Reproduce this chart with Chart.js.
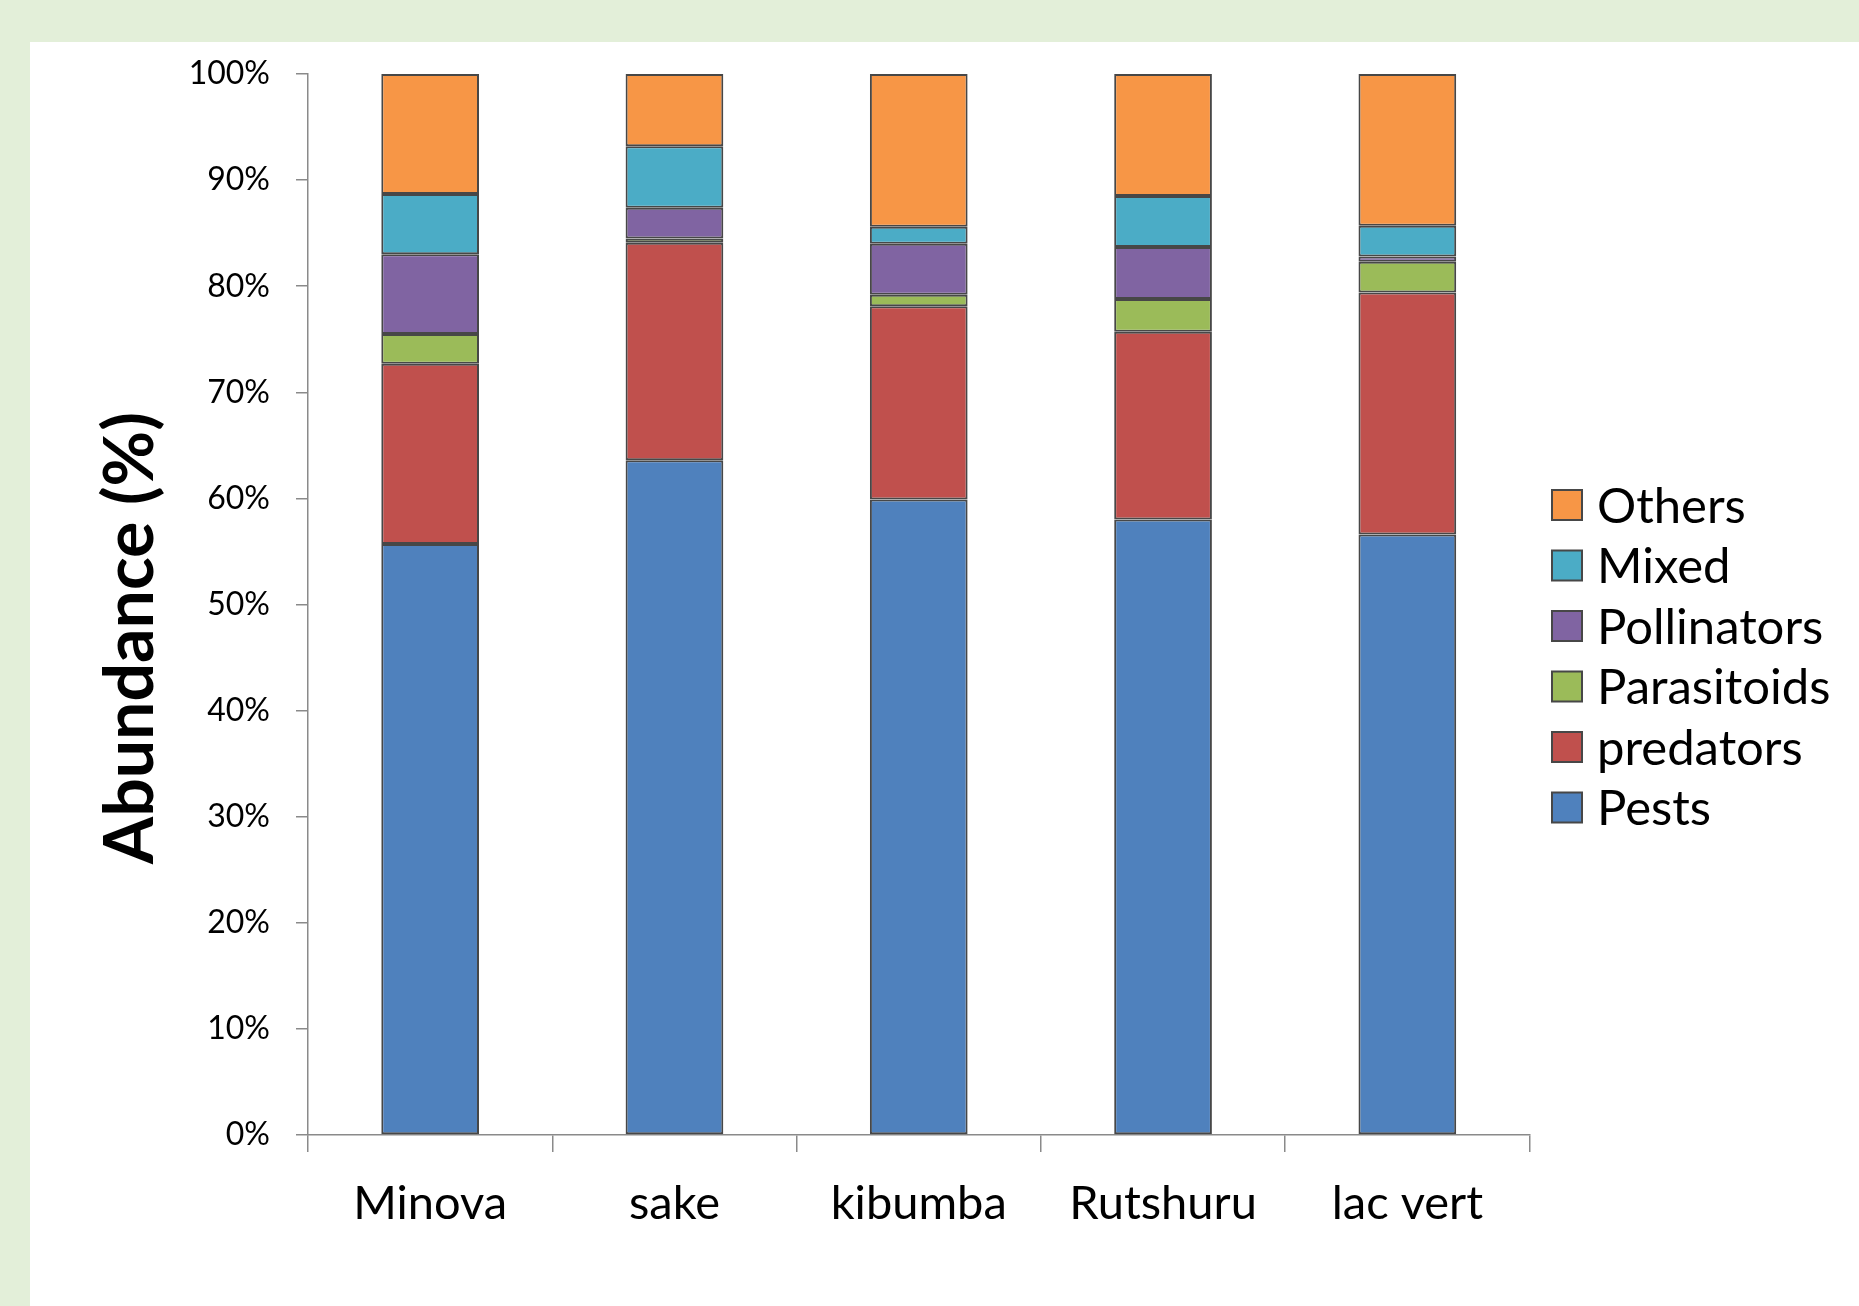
<!DOCTYPE html>
<html>
<head>
<meta charset="utf-8">
<title>Abundance by functional group</title>
<script src="https://cdn.jsdelivr.net/npm/chart.js@4.4.1/dist/chart.umd.min.js"></script>
<style>
  html, body { margin: 0; padding: 0; background: #ffffff; }
  #wrap { width: 1859px; height: 1306px; position: relative; }
</style>
</head>
<body>
<div id="wrap"><canvas id="c" width="1859" height="1306"></canvas></div>
<script>
// Sites (x categories)
const sites = ['Minova', 'sake', 'kibumba', 'Rutshuru', 'lac vert'];

// Relative abundance (%) of each functional group per site
const pests       = [55.7, 63.6, 59.9, 58.0, 56.6];
const predators   = [17.0, 20.5, 18.2, 17.7, 22.8];
const parasitoids = [2.8, 0.4, 1.1, 3.1, 2.9];
const pollinators = [7.5, 2.9, 4.8, 4.9, 0.5];
const mixed       = [5.7, 5.8, 1.6, 4.8, 2.9];
const others      = [11.3, 6.8, 14.4, 11.5, 14.3];

// Y axis tick values (%)
const yTicks = [0, 10, 20, 30, 40, 50, 60, 70, 80, 90, 100];
const yTitle = 'Abundance (%)';

const FONT = 'Lato';
const EDGE = '#474747';
const AXIS = '#8a8a8a';

// Page backdrop: light green frame with white panel
const backdrop = {
  id: 'backdrop',
  beforeDraw(chart) {
    const ctx = chart.ctx;
    ctx.save();
    ctx.fillStyle = '#e3efd9';
    ctx.fillRect(0, 0, chart.width, chart.height);
    ctx.fillStyle = '#ffffff';
    ctx.fillRect(30, 42, chart.width - 30, chart.height - 42);
    ctx.restore();
  }
};

// Rotated y-axis title
const yAxisTitle = {
  id: 'yAxisTitle',
  afterDraw(chart) {
    const ctx = chart.ctx;
    ctx.save();
    ctx.translate(153, 638);
    ctx.rotate(-Math.PI / 2);
    ctx.font = 'bold 68px ' + FONT;
    ctx.fillStyle = '#000';
    ctx.textAlign = 'center';
    ctx.textBaseline = 'alphabetic';
    ctx.fillText(yTitle, 0, 0);
    ctx.restore();
  }
};

// Legend on the right, topmost stack segment listed first
const sideLegend = {
  id: 'sideLegend',
  afterDraw(chart) {
    const ctx = chart.ctx;
    const ds = chart.data.datasets.slice().reverse();
    const boxX = 1552, box = 30, textX = 1597;
    const firstY = 505, step = 60.5;
    ctx.save();
    ctx.font = '49px ' + FONT;
    ctx.textBaseline = 'middle';
    ctx.textAlign = 'left';
    ds.forEach((d, i) => {
      const cy = firstY + i * step;
      ctx.fillStyle = d.backgroundColor;
      ctx.fillRect(boxX, cy - box / 2, box, box);
      ctx.strokeStyle = EDGE;
      ctx.lineWidth = 2;
      ctx.strokeRect(boxX, cy - box / 2, box, box);
      ctx.fillStyle = '#000';
      ctx.fillText(d.label, textX, cy + 2);
    });
    ctx.restore();
  }
};

function series(label, data, color) {
  return {
    label, data,
    backgroundColor: color,
    borderColor: EDGE,
    borderWidth: 2,
    borderSkipped: false,
    barPercentage: 0.4,
    categoryPercentage: 1.0
  };
}

new Chart(document.getElementById('c'), {
  type: 'bar',
  data: {
    labels: sites,
    datasets: [
      series('Pests', pests, '#4f81bd'),
      series('predators', predators, '#c0504d'),
      series('Parasitoids', parasitoids, '#9bbb59'),
      series('Pollinators', pollinators, '#8064a2'),
      series('Mixed', mixed, '#4bacc6'),
      series('Others', others, '#f79646')
    ]
  },
  options: {
    responsive: false,
    animation: false,
    devicePixelRatio: 1,
    layout: { padding: { left: 0, right: 329.5, top: 74, bottom: 51 } },
    plugins: {
      legend: { display: false },
      tooltip: { enabled: false },
      title: { display: false }
    },
    scales: {
      x: {
        stacked: true,
        grid: {
          offset: true,
          drawOnChartArea: false,
          drawTicks: true,
          tickLength: 17,
          color: AXIS,
          lineWidth: 1.5
        },
        border: { display: true, color: AXIS, width: 1.5 },
        ticks: {
          color: '#000',
          font: { family: FONT, size: 47 },
          padding: 24,
          maxRotation: 0
        },
        afterFit(s) { s.height = 120; }
      },
      y: {
        stacked: true,
        min: 0,
        max: 100,
        afterBuildTicks(s) { s.ticks = yTicks.map(v => ({ value: v })); },
        grid: {
          drawOnChartArea: false,
          drawTicks: true,
          tickLength: 12,
          color: AXIS,
          lineWidth: 1.5
        },
        border: { display: true, color: AXIS, width: 1.5 },
        ticks: {
          color: '#000',
          font: { family: FONT, size: 32 },
          padding: 26,
          callback: v => v + '%'
        },
        afterFit(s) { s.width = 308; }
      }
    }
  },
  plugins: [backdrop, yAxisTitle, sideLegend]
});
</script>
</body>
</html>
